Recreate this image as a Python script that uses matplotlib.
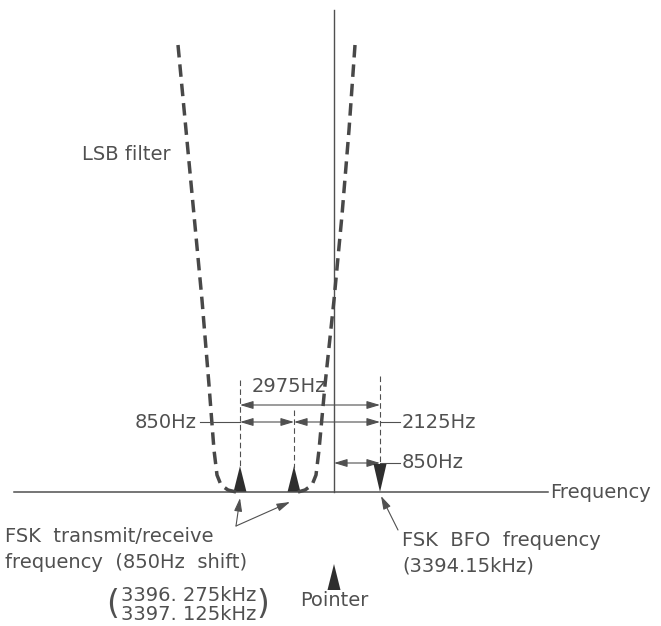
import matplotlib.pyplot as plt
from matplotlib.patches import FancyArrowPatch

# diagram positions (pixel units of the 661x626 page)
left_filter_x = [178, 186, 194, 202, 209, 214, 217, 221, 228, 236]
left_filter_y = [45, 130, 215, 300, 385, 450, 475, 485, 490, 492]
right_filter_x = [355, 349, 342, 334, 325, 319, 316, 312, 305, 298]
right_filter_y = [45, 130, 215, 300, 385, 450, 475, 485, 490, 492]

tx_low_x, tx_high_x, pointer_x, bfo_x = 240, 294, 334, 380
baseline_y = 492

dim_2975 = (tx_low_x, bfo_x, 405)
dim_850 = (tx_low_x, tx_high_x, 422)
dim_2125 = (tx_high_x, bfo_x, 422)
dim_850b = (pointer_x, bfo_x, 463)

ink = '#505050'
fs = 14

fig = plt.figure(figsize=(6.61, 6.26), dpi=100)
ax = fig.add_axes([0, 0, 1, 1])
ax.set_xlim(0, 661)
ax.set_ylim(626, 0)
ax.axis('off')

# frequency axis and pointer line
ax.plot([14, 548], [baseline_y, baseline_y], color=ink, lw=1.1)
ax.plot([pointer_x, pointer_x], [10, baseline_y], color=ink, lw=1.0)

# LSB filter skirts
for xs, ys in [(left_filter_x, left_filter_y), (right_filter_x, right_filter_y)]:
    ax.plot(xs, ys, color='#484848', lw=2.5, linestyle=(0, (3.6, 2.0)), solid_capstyle='butt')

# thin dashed extension lines
ax.plot([tx_low_x, tx_low_x], [380, 468], color=ink, lw=0.8, linestyle=(0, (5, 3)))
ax.plot([tx_high_x, tx_high_x], [410, 468], color=ink, lw=0.8, linestyle=(0, (5, 3)))
ax.plot([bfo_x, bfo_x], [376, 464], color=ink, lw=0.8, linestyle=(0, (5, 3)))


def dim_arrow(x0, x1, y):
    a = FancyArrowPatch((x0, y), (x1, y), arrowstyle='<|-|>,head_length=8,head_width=2.4',
                        color=ink, lw=0.8, shrinkA=0, shrinkB=0, mutation_scale=1)
    ax.add_patch(a)


for x0, x1, y in [dim_2975, dim_850, dim_2125, dim_850b]:
    dim_arrow(x0, x1, y)

# leader lines to labels
ax.plot([200, tx_low_x], [dim_850[2]] * 2, color=ink, lw=0.8)
ax.plot([bfo_x, 400], [dim_2125[2]] * 2, color=ink, lw=0.8)
ax.plot([bfo_x, 400], [dim_850b[2]] * 2, color=ink, lw=0.8)

# markers
tri_h, tri_w = 26, 13
for x in [tx_low_x, tx_high_x]:
    ax.fill([x - tri_w / 2, x + tri_w / 2, x], [baseline_y, baseline_y, baseline_y - tri_h],
            color='#2e2e2e', lw=0)
ax.fill([bfo_x - tri_w / 2, bfo_x + tri_w / 2, bfo_x], [baseline_y - tri_h - 2, baseline_y - tri_h - 2, baseline_y],
        color='#2e2e2e', lw=0)
ax.fill([pointer_x - tri_w / 2, pointer_x + tri_w / 2, pointer_x], [590, 590, 564],
        color='#2e2e2e', lw=0)

# labels
ax.text(82, 155, 'LSB filter', fontsize=fs, color=ink, va='center')
ax.text(289, 386, '2975Hz', fontsize=fs, color=ink, va='center', ha='center')
ax.text(197, dim_850[2], '850Hz', fontsize=fs, color=ink, va='center', ha='right')
ax.text(402, dim_2125[2], '2125Hz', fontsize=fs, color=ink, va='center')
ax.text(402, dim_850b[2], '850Hz', fontsize=fs, color=ink, va='center')
ax.text(550, baseline_y, 'Frequency', fontsize=fs, color=ink, va='center')
ax.text(5, 536, 'FSK  transmit/receive', fontsize=fs, color=ink, va='center')
ax.text(5, 562, 'frequency  (850Hz  shift)', fontsize=fs, color=ink, va='center')
ax.text(121, 605, '3396. 275kHz\n3397. 125kHz', fontsize=fs, color=ink, va='center',
        linespacing=1.0)
ax.text(113, 604, '(', fontsize=fs * 1.7, color=ink, va='center', ha='center')
ax.text(263, 604, ')', fontsize=fs * 1.7, color=ink, va='center', ha='center')
ax.text(pointer_x, 601, 'Pointer', fontsize=fs, color=ink, va='center', ha='center')
ax.text(402, 540, 'FSK  BFO  frequency', fontsize=fs, color=ink, va='center')
ax.text(402, 566, '(3394.15kHz)', fontsize=fs, color=ink, va='center')

# pointing arrows
for start, end in [((236, 526), (240, 498)), ((236, 526), (290, 502)), ((398, 530), (381, 496))]:
    ax.add_patch(FancyArrowPatch(start, end, arrowstyle='-|>,head_length=8,head_width=2.4',
                                 color=ink, lw=0.8, shrinkA=0, shrinkB=0, mutation_scale=1))

fig.savefig('out.png', dpi=100)
